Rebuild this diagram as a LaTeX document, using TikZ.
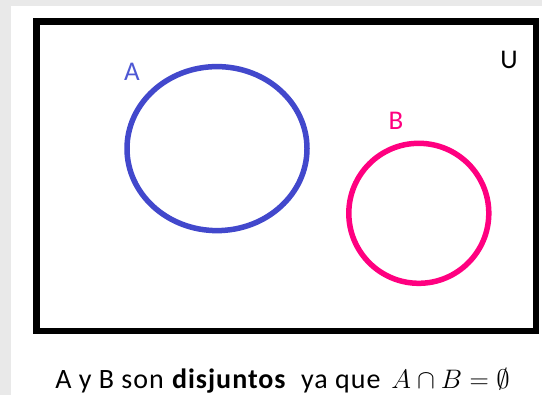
\documentclass[tikz,border=0pt]{standalone}
\usepackage{fontspec}
\setmainfont{Carlito}

\begin{document}
\begin{tikzpicture}[x=1bp,y=-1bp,line width=0.8pt]
  \definecolor{pagegrey}{RGB}{233,233,233}
  \definecolor{setblue}{RGB}{66,72,204}
  \definecolor{labblue}{RGB}{78,88,212}
  \definecolor{setpink}{RGB}{255,0,128}
  \tikzset{setlabel/.style={font=\fontsize{27bp}{32bp}\selectfont,anchor=base}}
  % grey margin round the white sheet
  \fill[pagegrey] (0,0) rectangle (542,395);
  \fill[white] (11,6) rectangle (542,395);
  \useasboundingbox (0,0) rectangle (542,395);
  % universe
  \draw[line width=6.5bp] (36.5,21.5) rectangle (536,331);
  \node[setlabel] (labU) at (509,68) {U};
  % set A
  \draw[setblue,line width=5.5bp] (217,148.6) ellipse [x radius=90bp,y radius=82bp];
  \node[setlabel,text=labblue] (labA) at (132,80) {A};
  % set B
  \draw[setpink,line width=5.5bp] (418.8,213.3) circle [radius=70bp];
  \node[setlabel,text=setpink] (labB) at (396,129) {B};
  % caption
  \node[font=\fontsize{28bp}{33bp}\selectfont,anchor=base west,inner sep=0pt] (caption) at (55,388)
    {{\addfontfeature{LetterSpace=3.5}A y B son \textbf{disjuntos}\ \ ya que}\ \,%
     \scalebox{1.08}{\fontsize{25bp}{30bp}\selectfont$A\cap B=\emptyset$}};
\end{tikzpicture}
\end{document}
